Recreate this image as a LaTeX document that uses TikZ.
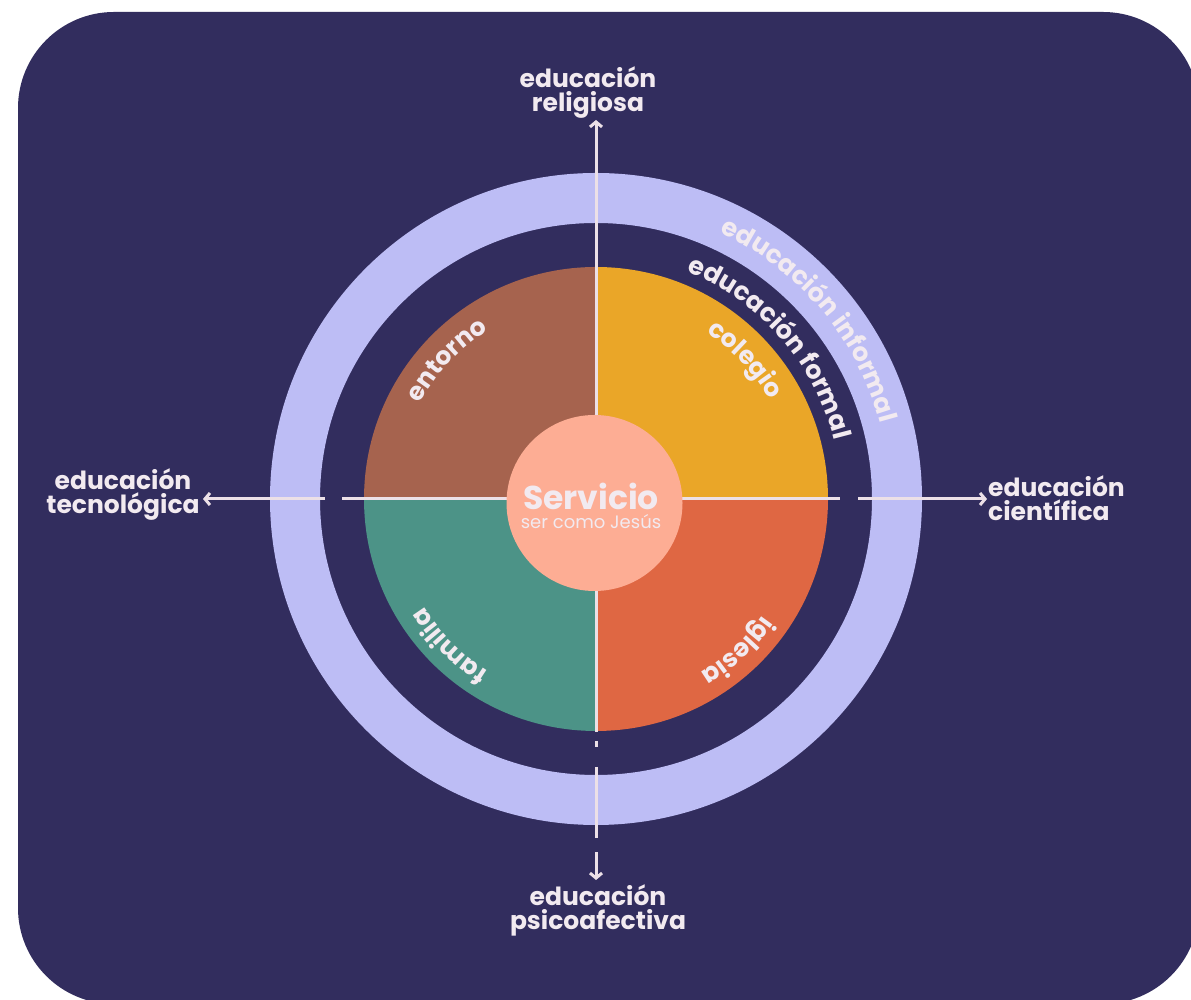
\documentclass[tikz,border=0pt]{standalone}
\usepackage{fontspec}
\setmainfont{Poppins}
\usetikzlibrary{arrows.meta,decorations.text}

\definecolor{navy}{HTML}{322D5E}
\definecolor{ringclr}{HTML}{BDBDF5}
\definecolor{brownq}{HTML}{A6634E}
\definecolor{goldq}{HTML}{EAA628}
\definecolor{tealq}{HTML}{4C9387}
\definecolor{orangeq}{HTML}{DF6743}
\definecolor{salmon}{HTML}{FDAD94}
\definecolor{txtclr}{HTML}{F2EAF0}
\definecolor{lineclr}{HTML}{ECE0E7}

\newcommand\labelfont{\fontsize{25}{24}\selectfont\bfseries}
\newcommand\quadfont{\fontsize{25}{25}\selectfont\bfseries}
\newcommand\bandfont{\fontsize{25.5}{25}\selectfont\bfseries}

\begin{document}
\begin{tikzpicture}[x=1pt, y=1pt,
  divline/.style={draw=lineclr, line width=3pt},
  arrowline/.style={divline, -{Straight Barb[length=5pt,width=12pt]}},
  axislabel/.style={text=txtclr, font=\labelfont, inner sep=0pt},
  quadtext/.style={decorate, decoration={text along path, text align=center, text color=txtclr}}]
\useasboundingbox (0,0) rectangle (1191,1000);
\clip (0,0) rectangle (1191,1000);
\fill[white] (0,0) rectangle (1191,1000);

% Background card
\fill[navy, rounded corners=96pt] (18,-4) rectangle (1199,988);

\coordinate (O) at (596,501);

% Outer ring
\draw[ringclr, line width=50pt] (O) circle[radius=301pt];

% Quadrants
\fill[brownq] (O) -- ++(180:232pt) arc[start angle=180, end angle=90, radius=232pt] -- cycle;
\fill[goldq] (O) -- ++(90:232pt) arc[start angle=90, end angle=0, radius=232pt] -- cycle;
\fill[orangeq] (O) -- ++(0:232pt) arc[start angle=0, end angle=-90, radius=232pt] -- cycle;
\fill[tealq] (O) -- ++(-90:232pt) arc[start angle=-90, end angle=-180, radius=232pt] -- cycle;

% Axis labels
\node[axislabel, align=center] (relig) at (588,907) {educación\\religiosa};
\node[axislabel, align=center] (tecno) at (123,505) {educación\\tecnológica};
\node[axislabel, align=left, anchor=west] (cient) at (988,502) {educación\\científica};
\node[axislabel, align=center] (psico) at (598,90) {educación\\psicoafectiva};

% Line ends
\coordinate (tipN) at (596,880);
\coordinate (tipW) at (203,501);
\coordinate (tipE) at (987,501);
\coordinate (tipS) at (596,120);
\coordinate (w1) at (342,501);
\coordinate (w2) at (325,501);
\coordinate (e1) at (840,501);
\coordinate (e2) at (858,501);
\coordinate (s1) at (596,259);
\coordinate (s2) at (596,253);
\coordinate (s3) at (596,233);
\coordinate (s4) at (596,162);
\coordinate (s5) at (596,148);

% Dividers and arrows
\draw[arrowline] (O) -- (tipN);
\draw[divline] (O) -- (w1);
\draw[arrowline] (w2) -- (tipW);
\draw[divline] (O) -- (e1);
\draw[arrowline] (e2) -- (tipE);
\draw[divline] (O) -- (596,268);
\draw[divline] (s1) -- (s2);
\draw[divline] (s3) -- (s4);
\draw[arrowline] (s5) -- (tipS);

% Centre
\node[circle, fill=salmon, minimum size=176pt, inner sep=0pt] (serv) at (594.5,497) {};
\node[anchor=base, text=txtclr, font=\fontsize{33}{33}\selectfont\bfseries, inner sep=0pt] (servicio) at (591,490) {Servicio};
\node[anchor=base, text=txtclr, font=\fontsize{18}{18}\selectfont, inner sep=0pt] (jesus) at (591,471) {ser como Jesús};

% Curved labels
\path[quadtext, shift={(O)}, decoration={text={|\quadfont|entorno}}] (167:200pt) arc[start angle=167, end angle=107, radius=200pt];
\path[quadtext, shift={(O)}, decoration={text={|\quadfont|colegio}}] (73:200pt) arc[start angle=73, end angle=13, radius=200pt];
\path[quadtext, shift={(O)}, decoration={text={|\quadfont|familia}}] (255:203pt) arc[start angle=255, end angle=195, radius=203pt];
\path[quadtext, shift={(O)}, decoration={text={|\quadfont|iglesia}}] (-17:203pt) arc[start angle=-17, end angle=-77, radius=203pt];
\path[quadtext, shift={(O)}, decoration={text={|\bandfont|educación formal}}] (85:245pt) arc[start angle=85, end angle=-3, radius=245pt];
\path[quadtext, shift={(O)}, decoration={text={|\bandfont|educación informal}}] (85:294pt) arc[start angle=85, end angle=-5, radius=294pt];
\end{tikzpicture}
\end{document}
